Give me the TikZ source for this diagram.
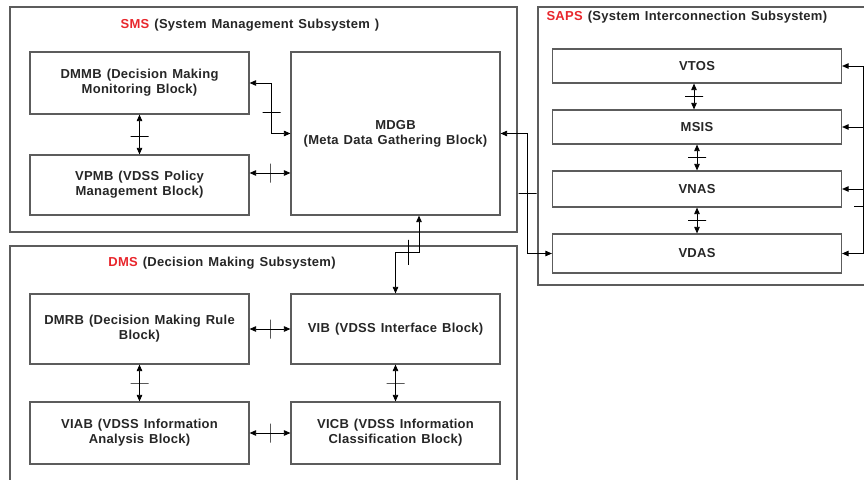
\documentclass[tikz,border=0pt]{standalone}
\usepackage{fontspec}
\setmainfont{Liberation Sans}[LetterSpace=2,WordSpace=1.3]
\usetikzlibrary{positioning,arrows.meta,calc}

\definecolor{boxgray}{HTML}{5C5C5C}
\definecolor{tagred}{HTML}{E8262C}
\definecolor{inkgray}{HTML}{262626}

\begin{document}
\begin{tikzpicture}[
  x=1pt, y=-1pt,
  font=\bfseries\fontsize{13}{15}\selectfont,
  text=inkgray,
  block/.style={
    rectangle,
    draw=boxgray,
    line width=1.2pt,
    align=center,
    inner sep=0pt
  },
  frame/.style={
    rectangle,
    draw=boxgray,
    line width=1.2pt,
    inner sep=0pt
  },
  link/.style={
    draw=black,
    line width=0.8pt,
    >={Triangle[length=6.5pt,width=5.5pt]},
    <->
  },
  feed/.style={
    draw=black,
    line width=0.8pt,
    >={Triangle[length=6.5pt,width=5.5pt]},
    ->
  },
  tickv/.style={
    draw=black,
    line width=0.8pt,
    inner sep=0pt,
    minimum width=0pt,
    minimum height=19pt
  },
  tickh/.style={
    draw=black,
    line width=0.8pt,
    inner sep=0pt,
    minimum width=18pt,
    minimum height=0pt
  }]
  \useasboundingbox (0,0) rectangle (864,479);

  % subsystems
  \node[frame,minimum width=507pt,minimum height=225pt] (sms) at (263.5,119.5) {};
  \node[frame,minimum width=507pt,minimum height=250pt] (dms) at (263.5,371) {};
  \node[frame,minimum width=342pt,minimum height=278pt] (saps) at (709,146) {};
  \node (smstitle) at (250,25) {\textcolor{tagred}{SMS} (System Management Subsystem )};
  \node (dmstitle) at (222,263) {\textcolor{tagred}{DMS} (Decision Making Subsystem)};
  \node[anchor=west] (sapstitle) at (543,17) {\textcolor{tagred}{SAPS} (System Interconnection Subsystem)};

  % SMS blocks
  \node[block,minimum width=219pt,minimum height=62pt] (dmmb) at (139.5,83)
    {DMMB (Decision Making\\Monitoring Block)};
  \node[block,minimum width=219pt,minimum height=60pt] (vpmb) at (139.5,185)
    {VPMB (VDSS Policy\\Management Block)};
  \node[block,minimum width=209pt,minimum height=163pt] (mdgb) at (395.5,133.5)
    {MDGB\\(Meta Data Gathering Block)};

  % DMS blocks
  \node[block,minimum width=219pt,minimum height=70pt] (dmrb) at (139.5,329)
    {DMRB (Decision Making Rule\\Block)};
  \node[block,minimum width=209pt,minimum height=70pt] (vib) at (395.5,329)
    {VIB (VDSS Interface Block)};
  \node[block,minimum width=219pt,minimum height=62pt] (viab) at (139.5,433)
    {VIAB (VDSS Information\\Analysis Block)};
  \node[block,minimum width=209pt,minimum height=62pt] (vicb) at (395.5,433)
    {VICB (VDSS Information\\Classification Block)};

  % SAPS blocks
  \node[block,minimum width=289pt,minimum height=34pt] (vtos) at (697,66) {VTOS};
  \node[block,minimum width=289pt,minimum height=34pt] (msis) at (697,127) {MSIS};
  \node[block,minimum width=289pt,minimum height=36pt] (vnas) at (697,189) {VNAS};
  \node[block,minimum width=289pt,minimum height=39pt] (vdas) at (697,253.5) {VDAS};

  % links inside SMS
  \draw[link] (dmmb.east) -- ++(22,0) |- (mdgb.west) node[pos=0.29,tickh] {};
  \coordinate (vpmbout) at ([yshift=12pt]vpmb.east);
  \draw[link] (vpmbout) -- (vpmbout -| mdgb.west) node[midway,tickv] {};
  \draw[link] (dmmb.south) -- (vpmb.south |- vpmb.north) node[pos=0.55,tickh] {};

  % links inside DMS
  \draw[link] (dmrb.east) -- (vib.west) node[midway,tickv] {};
  \draw[link] (viab.east) -- (vicb.west) node[midway,tickv] {};
  \draw[link] (dmrb.south) -- (viab.north) node[midway,tickh] {};
  \draw[link] (vib.south) -- (vicb.north) node[midway,tickh] {};

  % links inside SAPS
  \draw[link] ([xshift=-3pt]vtos.south) -- ([xshift=-3pt]msis.north) node[midway,tickh] {};
  \draw[link] (msis.south) -- (vnas.north) node[midway,tickh] {};
  \draw[link] (vnas.south) -- (vdas.north) node[midway,tickh] {};

  % links between subsystems
  \draw[link] ([xshift=23.5pt]mdgb.south) |- ($(vib.north)+(0,-41)$)
    node[pos=0.72,tickv,minimum height=25pt] {} -- (vib.north);
  \draw[link] (mdgb.east) -- ++(27,0) |- (vdas.west) node[pos=0.25,tickh] {};

  % feed bus on the right
  \coordinate (bustop) at (vtos.east -| 863,0);
  \coordinate (busend) at (vdas.east -| 863,0);
  \draw[draw=black,line width=0.8pt] (bustop) -- (busend) node[pos=0.75,tickh] {};
  \foreach \blk in {vtos,msis,vnas,vdas}
    \draw[feed] (\blk.east -| bustop) -- (\blk.east);
\end{tikzpicture}
\end{document}
